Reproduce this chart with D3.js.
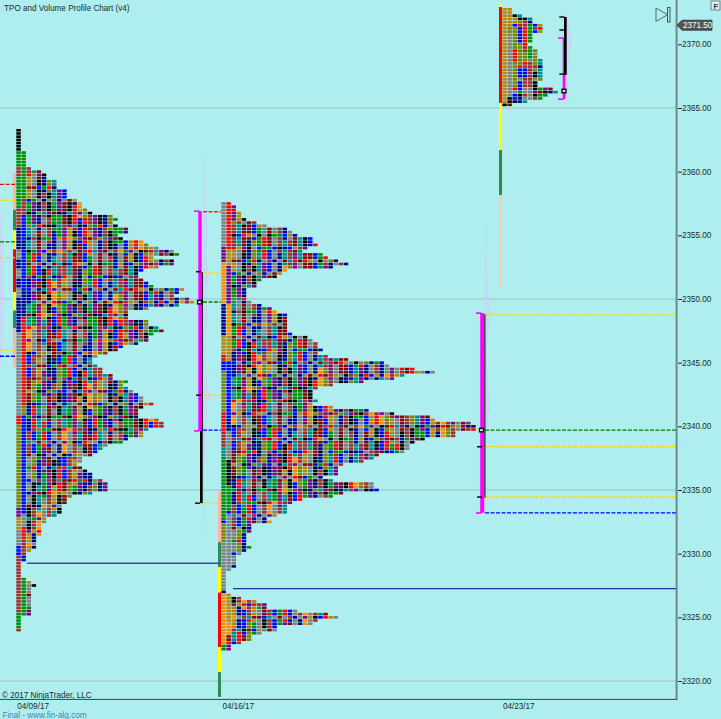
<!DOCTYPE html>
<html><head><meta charset="utf-8">
<script src="https://cdn.jsdelivr.net/npm/d3@7/dist/d3.min.js"></script>
<style>html,body{margin:0;padding:0;background:#AFEEEE;overflow:hidden}svg{display:block}text{font-family:"Liberation Sans",Arial,sans-serif}</style>
</head><body><svg id="c" width="721" height="719"></svg>
<script>
const W=721,H=719;
const priceTicks=[2320,2325,2330,2335,2340,2345,2350,2355,2360,2365,2370];
const gridPrices=[2320,2335,2350,2365];
const dateLabels=["04/09/17","04/16/17","04/23/17"];
const lastPrice=2371.5;

const week1Top=2363.25;
const week1Widths=[1,1,1,1,1,1,1,2,2,2,2,2,3,5,6,6,8,8,8,10,10,10,12,13,13,14,15,19,20,19,20,22,22,20,21,25,26,28,31,32,27,31,31,28,25,24,24,25,26,27,33,32,31,34,35,
32,26,22,22,22,26,26,28,29,27,26,26,24,21,20,18,16,15,15,16,17,17,19,19,22,21,22,23,24,25,25,27,25,24,24,24,28,29,29,26,25,25,22,21,18,17,16,15,13,13,12,
13,14,15,15,17,18,18,18,15,11,10,10,9,9,9,8,6,6,5,5,5,5,4,4,4,4,3,2,2,2,1,1,1,1,1,2,3,4,3,3,3,3,3,3,3,3,3,1,1,1,1,1];
const week2Top=2357.5;
const week2Widths=[2,3,3,4,4,5,7,9,13,14,15,18,18,19,17,16,20,21,23,25,22,13,12,11,8,7,7,5,5,5,5,
6,8,10,11,13,13,13,13,13,13,14,17,18,19,19,20,19,21,25,32,33,38,42,36,34,28,22,19,18,18,18,19,18,
22,29,34,41,42,49,50,50,46,46,40,38,37,37,36,31,30,28,24,23,23,23,20,22,30,30,31,24,22,16,14,13,13,13,11,9,10,6,6,6,5,5,5,5,
6,5,4,3,3,3,3,2,1,1,1,1,1,1,1,2,4,7,9,9,15,21,23,19,18,11,11,8,6,6,4,2,2];
const week3Top=2372.75;
const week3Widths=[2,2,4,6,6,8,8,8,6,6,6,5,6,7,7,7,8,8,8,8,8,8,8,7,7,10,11,9,8,5,2];

const colorCodes={R:"#FF0000",B:"#0000FF",N:"#00008B",D:"#8B0000",F:"#A52A2A",G:"#008F00",T:"#008B8B",O:"#FF8C00",Y:"#B8860B",L:"#808000",A:"#808080",P:"#800080",K:"#000000"};
const colorCycle="NBFGKTDNAYOPRFTBFKLADYDRPNGKBAFTNLRAGDKPA".split("");
const phase=[0,3,5,1,4,2,6];
const rowShift=[0,0,1,0,0,0,2,0];
const week1Col0="K7 G5 F3 G10 F6 N7 A3 N3 A3 N3 A3 N11 A26 R3 L26 P3 Y4 A5 B3 F18 G5";
const week1Col1="K5 G17 F5 B8 N3 B13 N8 R28 L3 B31 A4 R4 F5 B3 F3 K1 G14";
const week2Col0="A14 P5 O13 N10 Y6 R2 B3 L13 R7 F4 T3 G20 B1 L6 A15 N1 O16";
const week2Col1="R15 Y5 P12 O10 Y8 B18 N4 A9 K8 G8 B1 A20 Y14 O4";
const week3Col0="Y30 K1";
const week3Col1="Y6 L2 A20 K2 D1";
const week3Col2="Y2 K1 Y2 B1 L7 R4 L8 R1 A1 B2 K1 L1 F1";
const week3Col3="Y2 T1 K1 L1 R1 B5 L5 L2 R1 B3 A1 B3 G1 K1 N2";
const week3Col4="Y3 K1 F1 F1 R6 F2 L3 R1 F1 B3 F3 A2 F1 A1 T1 O1 K1";
const week3Col5="Y3 T1 N1 G9 G2 A1 F1 F7 A4 P1 G2";

const vol1Top=2357;
const vol1=[1,1,2,2,3,3,3,3,3,4,4,3,3,3,3,4,4,3,3,3,3,2,2,1,1];
const vol2Top=2361.5;
const vol2=[1,1,1,2,2,2,3,3,3,3,4,5,5,5,4,3,3,4,5,6,5,4,3,3,4,5,5,4,3,3,3,3,2,3,3,4,5,6,6,5,4,4,3,3,3,2,2,2,2,1,1,1,1,1,1,1,1,1,1,1];
const vol3Top=2356;
const vol3=[1,1,1,1,1,2,2,2,3,3,3,4,5,5,5,5,4,3,3,2,3,2,2,3,3,3,4,5,5,5,4,3,2,1,1,1,1,1,1,1,1,1,1,1];
const vol4Top=2372.5;
const vol4=[2,3,4,5,6,5,4,4,3,3,2,2,1,1];

const svg=d3.select("#c");
const y=d3.scaleLinear().domain([2320,2365]).range([681,108]);
const colX=d3.scaleLinear().domain([0,1]).range([0,5.1]);
const dateX=d3.scaleOrdinal().domain(dateLabels).range([17.3,222.5,503]);

svg.append("rect").attr("width",W).attr("height",H).attr("fill","#AFEEEE");
svg.selectAll(".grid").data(gridPrices).join("line").attr("x1",0).attr("x2",676)
  .attr("y1",d=>y(d)).attr("y2",d=>y(d)).attr("stroke","#A9BFBF").attr("stroke-width",1.2);

function runs(s){const o=[];s.split(" ").forEach(t=>{const c=t[0],n=+t.slice(1);for(let i=0;i<n;i++)o.push(c)});return o;}
function cellColor(row,col,leads){
  if(col<leads.length&&leads[col][row])return colorCodes[leads[col][row]];
  const band=Math.floor((row+phase[col%7]*2)/8);
  return colorCodes[colorCycle[(col*3+band*5+rowShift[row%8])%colorCycle.length]];
}
function drawProfile(left,top,widths,leads){
  const cells=[];
  widths.forEach((w,row)=>{for(let col=0;col<w;col++)cells.push({row,col,price:top-row*0.25});});
  svg.append("g").selectAll("rect").data(cells).join("rect")
    .attr("x",d=>left+colX(d.col)+0.3).attr("y",d=>y(d.price)-1.3)
    .attr("width",4.5).attr("height",2.6)
    .attr("fill",d=>cellColor(d.row,d.col,leads));
}
drawProfile(16,week1Top,week1Widths,[runs(week1Col0),runs(week1Col1)]);
drawProfile(221,week2Top,week2Widths,[runs(week2Col0),runs(week2Col1)]);
drawProfile(502,week3Top,week3Widths,[runs(week3Col0),runs(week3Col1),runs(week3Col2),runs(week3Col3),runs(week3Col4),runs(week3Col5)]);

function drawVol(left,top,vals){
  svg.append("g").selectAll("rect").data(vals).join("rect")
   .attr("x",left).attr("y",(d,i)=>y(top-i*0.5)).attr("width",d=>d).attr("height",5.4)
   .attr("fill","#C8D4F8");
}
drawVol(0,vol1Top,vol1);drawVol(203,vol2Top,vol2);drawVol(485,vol3Top,vol3);drawVol(566,vol4Top,vol4);

// opening-range bars: [x, from price, to price, colour]
const rangeBars=[[13,2359.9,2357,"#FFB6A0"],[13,2357,2355.4,"#2E8B57"],[13,2355.4,2353.9,"#FFFF00"],[13,2353.9,2350.55,"#FF0000"],[13,2350.55,2349.1,"#FFFF00"],[13,2349.1,2347.7,"#2E8B57"],[13,2347.7,2344.65,"#FFB6A0"],
 [218,2334.9,2330.9,"#FFB6A0"],[218,2330.9,2328.95,"#2E8B57"],[218,2328.95,2326.95,"#FFFF00"],[218,2326.95,2322.65,"#FF0000"],[218,2322.65,2320.7,"#FFFF00"],[218,2320.7,2318.75,"#2E8B57"],
 [499,2373.25,2372.93,"#FFFF00"],[499,2372.93,2365.4,"#FF0000"],[499,2365.4,2361.7,"#FFFF00"],[499,2361.7,2358.17,"#2E8B57"],[499,2358.17,2350.86,"#FFC8B0"]];
svg.append("g").selectAll("rect").data(rangeBars).join("rect")
 .attr("x",d=>d[0]).attr("width",3).attr("y",d=>y(d[1])).attr("height",d=>y(d[2])-y(d[1])).attr("fill",d=>d[3]);

// dashed levels: [x1,x2,price,colour]
const levels=[[0,15,2359,"#FF0000"],[0,15,2357.75,"#FFD700"],[0,15,2354.5,"#00A000"],[0,15,2353.25,"#FFD700"],[0,15,2346,"#FFD700"],[0,15,2345.5,"#0000FF"],
 [203,221,2356.85,"#FF2020"],[203,221,2352.05,"#FFD700"],[203,221,2349.76,"#008000"],[203,221,2342.45,"#FFD700"],[203,221,2339.7,"#0000FF"],[203,221,2333.97,"#FFD700"],
 [485,676,2348.75,"#FFD700"],[485,676,2339.7,"#008000"],[485,676,2338.4,"#FFD700"],[485,676,2334.45,"#FFD700"],[485,676,2333.2,"#0000FF"]];
svg.append("g").selectAll("line").data(levels).join("line")
 .attr("x1",d=>d[0]).attr("x2",d=>d[1]).attr("y1",d=>y(d[2])).attr("y2",d=>y(d[2]))
 .attr("stroke",d=>d[3]).attr("stroke-width",1.4).attr("stroke-dasharray","4 1.5");

// naked POC lines
const nakedLines=[[27,220,2329.25,"#3A50A8",1.6],[233,676,2327.25,"#2030A0",1.2]];
svg.append("g").selectAll("line").data(nakedLines).join("line")
 .attr("x1",d=>d[0]).attr("x2",d=>d[1]).attr("y1",d=>y(d[2])).attr("y2",d=>y(d[2])).attr("stroke",d=>d[3]).attr("stroke-width",d=>d[4]);

// value-area brackets: [x, top, bottom, thickness, colour, cap length]
const vaBars=[[198.3,2356.9,2339.65,3.4,"#FF00FF",4.3],[201.7,2352.1,2339.65,1.2,"#000000",0],[200,2339.65,2333.97,2.7,"#000000",0],
 [480.2,2348.9,2333.2,4,"#FF00FF",4.2],[484.3,2348.8,2334.4,1.2,"#202020",0],
 [562.7,2370.5,2365.7,2.7,"#FF00FF",4.5],[564,2372.15,2367.6,2.7,"#000000",0]];
svg.append("g").selectAll("g").data(vaBars).join("g").each(function(d){
  const g=d3.select(this);
  g.append("rect").attr("x",d[0]).attr("y",y(d[1])).attr("width",d[3]).attr("height",y(d[2])-y(d[1])).attr("fill",d[4]);
  if(d[5]){[d[1],d[2]].forEach(p=>g.append("rect").attr("x",d[0]-d[5]).attr("y",y(p)-0.7).attr("width",d[5]+1).attr("height",1.6).attr("fill",d[4]));}
});
const vaTicks=[[196,2352.15],[196,2342.45],[195,2333.97],[477,2338.4],[477,2334.45],[559.3,2372.15],[559.3,2371.13],[559.3,2367.67]];
svg.append("g").selectAll("rect").data(vaTicks).join("rect").attr("x",d=>d[0]).attr("y",d=>y(d[1])-0.7).attr("width",5).attr("height",1.5).attr("fill","#111");
const pocMarks=[[199.5,2349.75],[481.5,2339.7],[564,2366.33]];
svg.append("g").selectAll("rect").data(pocMarks).join("rect").attr("x",d=>d[0]-2).attr("y",d=>y(d[1])-1.8).attr("width",4).attr("height",3.5)
 .attr("fill","#C8E8E8").attr("stroke","#000").attr("stroke-width",1.3);

// axes
const yAxis=d3.axisRight(y).tickValues(priceTicks).tickFormat(d3.format(".2f")).tickSize(4).tickPadding(0);
const ag=svg.append("g").attr("transform","translate(678,0)").call(yAxis);
ag.select(".domain").remove();
ag.selectAll("line").attr("stroke","#223");
ag.selectAll("text").attr("font-size",8.15).attr("fill","#1a2a2a");
svg.append("line").attr("x1",676.6).attr("x2",676.6).attr("y1",0).attr("y2",700).attr("stroke","#6E8A8A").attr("stroke-width",2);
svg.append("line").attr("x1",0).attr("x2",677).attr("y1",699.4).attr("y2",699.4).attr("stroke","#324646").attr("stroke-width",1);
svg.append("g").selectAll("text").data(dateLabels).join("text").attr("x",d=>dateX(d)).attr("y",708.8).attr("font-size",8.15).attr("fill","#1a2a2a").text(d=>d);

// last-price flag
const ly=y(lastPrice);
svg.append("path").attr("d",d3.line()([[677,ly],[682,ly-5],[712,ly-5],[712,ly+5],[682,ly+5]])+"Z").attr("fill","#555").attr("stroke","#222").attr("stroke-width",.7);
svg.append("text").attr("x",683).attr("y",ly+3).attr("font-size",8.15).attr("fill","#fff").text(d3.format(".2f")(lastPrice));

// play icon, F button
svg.append("path").attr("d","M656 8 L656 21.5 L667.5 14.7 Z").attr("fill","none").attr("stroke","#4A6A6A").attr("stroke-width",1);
svg.append("rect").attr("x",667.5).attr("y",7.5).attr("width",2.5).attr("height",14.5).attr("fill","none").attr("stroke","#3A5A5A");
svg.append("rect").attr("x",711).attr("y",1).attr("width",9).attr("height",9).attr("fill","#D8F0F0").attr("stroke","#666").attr("stroke-width",.8);
svg.append("text").attr("x",713.5).attr("y",8.5).attr("font-size",7.5).attr("font-weight","bold").attr("fill","#333").text("F");

svg.append("text").attr("x",4).attr("y",11).attr("font-size",8.15).attr("fill","#1a2a2a").text("TPO and Volume Profile Chart (v4)");
svg.append("text").attr("x",2).attr("y",698).attr("font-size",8.15).attr("fill","#1a2a2a").text("\u00A9 2017 NinjaTrader, LLC");
svg.append("text").attr("x",2.5).attr("y",717.5).attr("font-size",8.15).attr("fill","#4682B4").text("Final - www.fin-alg.com");
</script></body></html>
